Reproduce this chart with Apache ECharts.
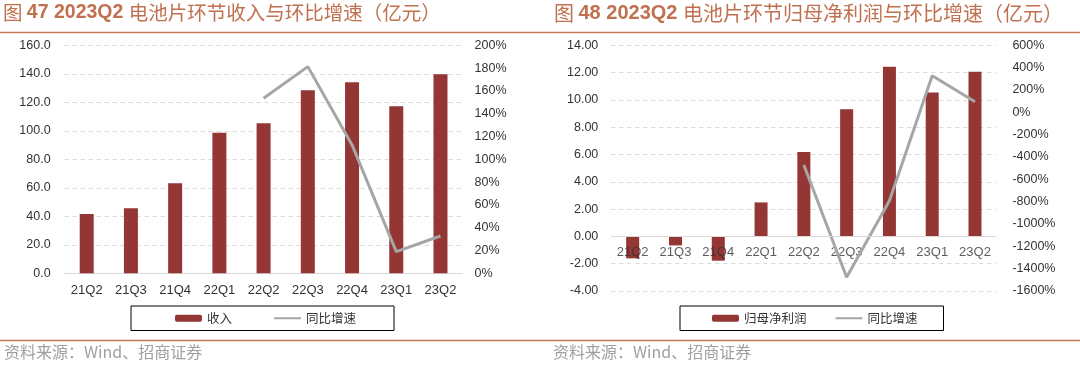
<!DOCTYPE html>
<html>
<head>
<meta charset="utf-8">
<script src="https://cdn.jsdelivr.net/npm/echarts@6/dist/echarts.min.js"></script>
<style>
html,body{margin:0;padding:0;background:#fff;}
#c{width:1080px;height:368px;}
</style>
</head>
<body>
<div id="c"></div>
<script>
// ---- data ----
var categories = ['21Q2','21Q3','21Q4','22Q1','22Q2','22Q3','22Q4','23Q1','23Q2'];
var revenue = [41.6, 45.6, 63.2, 98.7, 105.3, 128.4, 134.0, 117.2, 139.6];
var revenueGrowth = [null, null, null, null, 153.5, 181.3, 112.6, 19.0, 32.7];
var netProfit = [-1.61, -0.66, -1.78, 2.49, 6.18, 9.31, 12.43, 10.55, 12.07];
var profitGrowth = [null, null, null, null, -471, -1477, -791, 328, 95];
var leftTitleNum = '47 2023Q2 ';
var leftTitleText = '电池片环节收入与环比增速（亿元）';
var rightTitleNum = '48 2023Q2 ';
var rightTitleText = '电池片环节归母净利润与环比增速（亿元）';
var sourceText = '资料来源：Wind、招商证券';

var BAR = '#943634', LINE = '#a6a6a6', ACC = '#c8785a', TXT = '#333333';
var F = '"Liberation Sans", Arial, sans-serif';
var CJK = '"Noto Sans CJK SC", sans-serif';

var chart = echarts.init(document.getElementById('c'), null, {renderer:'canvas'});

function xAx(gi, showLabels){
  return {type:'category', gridIndex:gi, data:categories,
    axisLine:{show:showLabels, lineStyle:{color:'#d9d9d9', width:1}}, axisTick:{show:false},
    axisLabel:{show:showLabels, color:TXT, fontSize:13, fontFamily:F, margin:11}};
}
function yAx(gi, min, max, interval, fmt, showSplit, pos, margin){
  return {type:'value', gridIndex:gi, min:min, max:max, interval:interval, position:pos,
    axisLine:{show:false}, axisTick:{show:false},
    splitLine:{show:showSplit, lineStyle:{color:'#d9d9d9', type:[4,4], width:1}},
    axisLabel:{color:TXT, fontSize:12.5, fontFamily:F, margin:margin, formatter:fmt}};
}
function fix(d){return function(v){return v.toFixed(d);};}
function pct(v){return v+'%';}

function titleRich(sz){
  return {c:{fill:'#c0704f', fontSize:sz, fontFamily:CJK, fontWeight:'normal'},
          b:{fill:'#c0704f', fontSize:sz, fontFamily:F, fontWeight:'bold'}};
}

var option = {
  animation:false,
  grid:[
    {left:64.6, top:45.3, width:398, height:228},
    {left:611.3, top:45.3, width:385.1, height:245.7}
  ],
  xAxis:[xAx(0, true), xAx(1, false)],
  yAxis:[
    yAx(0, 0, 160, 20, fix(1), true, 'left', 14),
    yAx(0, 0, 200, 20, pct, false, 'right', 12),
    yAx(1, -4, 14, 2, fix(2), true, 'left', 13),
    yAx(1, -1600, 600, 200, pct, false, 'right', 16)
  ],
  legend:[
    {left:131, top:306, data:['收入',{name:'同比增速', itemStyle:{opacity:0}}], itemWidth:27, itemHeight:7, itemGap:41,
     padding:[6,38,6,44], borderColor:'#000', borderWidth:1,
     textStyle:{color:TXT, fontSize:12.5, fontFamily:CJK}},
    {left:680, top:306, data:['归母净利润',{name:'同比增速 ', itemStyle:{opacity:0}}], itemWidth:27, itemHeight:7, itemGap:28,
     padding:[6,26,6,32], borderColor:'#000', borderWidth:1,
     textStyle:{color:TXT, fontSize:12.5, fontFamily:CJK},
     formatter:function(n){return n.trim();}}
  ],
  series:[
    {name:'收入', type:'bar', xAxisIndex:0, yAxisIndex:0, data:revenue, barWidth:14, itemStyle:{color:BAR}},
    {name:'同比增速', type:'line', xAxisIndex:0, yAxisIndex:1, data:revenueGrowth, symbol:'none', lineStyle:{color:LINE, width:3}, itemStyle:{color:LINE}},
    {name:'归母净利润', type:'bar', xAxisIndex:1, yAxisIndex:2, data:netProfit, barWidth:13, itemStyle:{color:BAR},
     markLine:{silent:true, symbol:['none','none'], label:{show:false}, lineStyle:{color:'#d9d9d9', type:'solid', width:1},
       data:[{yAxis:0}]}},
    {name:'cat-labels', type:'scatter', xAxisIndex:1, yAxisIndex:2, silent:true, symbolSize:0, z:3,
     data:categories.map(function(c){return [c, 0];}),
     label:{show:true, position:'bottom', distance:9.5, color:TXT, fontSize:13, fontFamily:F,
       formatter:function(p){return p.value[0];}}},
    {name:'同比增速 ', type:'line', xAxisIndex:1, yAxisIndex:3, data:profitGrowth, symbol:'none', z:4, lineStyle:{color:LINE, width:3}, itemStyle:{color:LINE}}
  ],
  graphic:[
    {type:'text', left:3, top:3, style:{text:'{c|图 }{b|'+leftTitleNum+'}{c|'+leftTitleText+'}', rich:titleRich(19.5)}},
    {type:'text', left:554, top:3, style:{text:'{c|图 }{b|'+rightTitleNum+'}{c|'+rightTitleText+'}', rich:titleRich(20)}},
    {type:'line', shape:{x1:0,y1:32.5,x2:1080,y2:32.5}, style:{stroke:ACC, lineWidth:1.5}},
    {type:'line', shape:{x1:0,y1:340.5,x2:1080,y2:340.5}, style:{stroke:ACC, lineWidth:1.5}},
    {type:'text', left:4, top:344, style:{text:sourceText, fill:'#a0a0a0', fontSize:16, fontFamily:CJK}},
    {type:'text', left:553, top:344, style:{text:sourceText, fill:'#a0a0a0', fontSize:16, fontFamily:CJK}}
  ]
};
chart.setOption(option);
</script>
</body>
</html>
